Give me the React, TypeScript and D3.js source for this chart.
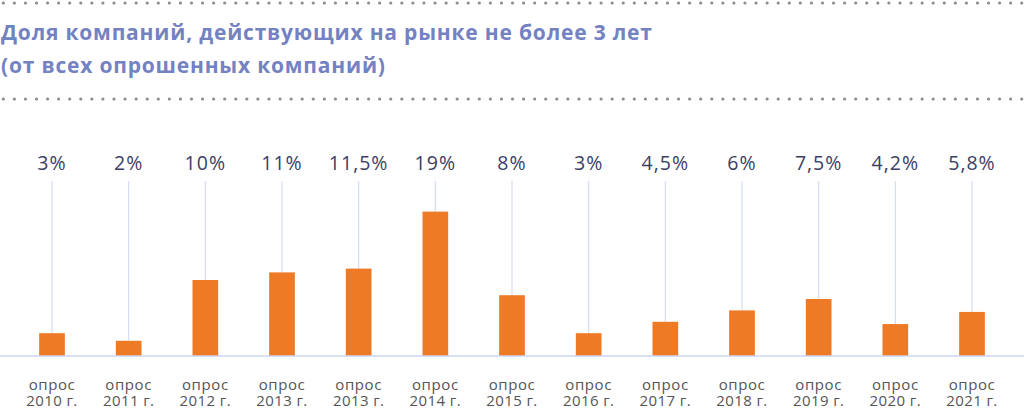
import { useMemo } from 'react';
import * as d3 from 'd3';

const years = ['2010', '2011', '2012', '2013', '2013', '2014', '2015', '2016', '2017', '2018', '2019', '2020', '2021'];
const values = [3, 2, 10, 11, 11.5, 19, 8, 3, 4.5, 6, 7.5, 4.2, 5.8];
const titleLines = [
  'Доля компаний, действующих на рынке не более 3 лет',
  '(от всех опрошенных компаний)',
];

const width = 1024;
const height = 408;
const baseY = 356;
const stemTop = 181;
const font = '"Open Sans", "Noto Sans", sans-serif';

function App() {
  const x = useMemo(
    () =>
      d3
        .scaleBand<number>()
        .domain(d3.range(values.length))
        .range([13.67, 1010.33])
        .paddingInner(0.665)
        .paddingOuter(0.3325),
    []
  );
  const y = useMemo(() => d3.scaleLinear().domain([0, 20]).range([baseY, baseY - 152]), []);

  const dots = d3.range(3.3, width, 11.07);
  const fmt = (v: number) => `${String(v).replace('.', ',')}%`;

  return (
    <svg
      width={width}
      height={height}
      style={{ position: 'absolute', left: 0, top: 0, background: '#fff' }}
    >
      {[3, 99].map((dy) => (
        <g key={dy}>
          {dots.map((dx) => (
            <circle key={dx} cx={dx} cy={dy} r={1.6} fill="#8c8c8c" />
          ))}
        </g>
      ))}

      {titleLines.map((t, i) => (
        <text
          key={i}
          x={1}
          y={40 + i * 32.5}
          fill="#7482c2"
          fontFamily={font}
          fontWeight={700}
          fontSize={21}
          letterSpacing={0.8}
        >
          {t}
        </text>
      ))}

      {values.map((v, i) => {
        const cx = (x(i) ?? 0) + x.bandwidth() / 2;
        return (
          <g key={i}>
            <line x1={cx} x2={cx} y1={stemTop} y2={y(v)} stroke="#d6dcf5" strokeWidth={1.2} />
            <rect
              x={x(i)}
              y={y(v)}
              width={x.bandwidth()}
              height={baseY - y(v)}
              fill="#ee7a26"
            />
            <text
              x={cx}
              y={170}
              textAnchor="middle"
              fill="#3b4064"
              fontFamily={font}
              fontSize={19.5}
              letterSpacing={1}
            >
              {fmt(v)}
            </text>
            <text
              x={cx}
              y={390}
              textAnchor="middle"
              fill="#555"
              fontFamily={font}
              fontSize={15}
              letterSpacing={0.6}
            >
              опрос
            </text>
            <text
              x={cx}
              y={406}
              textAnchor="middle"
              fill="#555"
              fontFamily={font}
              fontSize={15}
              letterSpacing={0.4}
            >
              {`${years[i]} г.`}
            </text>
          </g>
        );
      })}

      <line x1={0} x2={width} y1={baseY} y2={baseY} stroke="#ccd5f2" strokeWidth={1.5} />
    </svg>
  );
}

export default App;
